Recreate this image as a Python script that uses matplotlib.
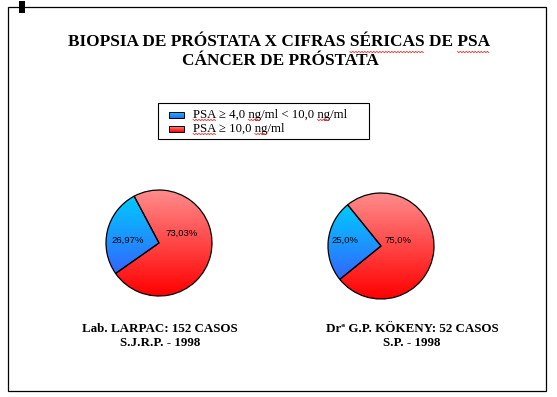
import numpy as np
import matplotlib
matplotlib.use("Agg")
import matplotlib.pyplot as plt
from matplotlib.patches import Rectangle

# data
categories = ["PSA \u2265 4,0 ng/ml < 10,0 ng/ml", "PSA \u2265 10,0 ng/ml"]
larpac_vals = [26.97, 73.03]
larpac_labels = ["26,97%", "73,03%"]
kokeny_vals = [25.0, 75.0]
kokeny_labels = ["25,0%", "75,0%"]
title_lines = ["BIOPSIA DE PR\u00d3STATA X CIFRAS S\u00c9RICAS DE PSA", "C\u00c1NCER DE PR\u00d3STATA"]
larpac_caption = ["Lab. LARPAC: 152 CASOS", "S.J.R.P. - 1998"]
kokeny_caption = ["Dr\u00aa G.P. K\u00d6KENY: 52 CASOS", "S.P. - 1998"]

W, H = 557, 397
serif = ["Liberation Serif", "DejaVu Serif"]
sans = ["Liberation Sans", "DejaVu Sans"]

# gradient colours (top -> bottom) for each category
grads = [((0, 204, 255), (51, 102, 255)), ((255, 140, 140), (255, 0, 0))]

fig = plt.figure(figsize=(W / 100, H / 100), dpi=100)
ax = fig.add_axes([0, 0, 1, 1])


def py(y):  # picture y (from top) -> axis y
    return H - y


def grad_fill(patch, c0, c1, box):
    t = np.linspace(0, 1, 256)[:, None]
    img = (np.array(c0) * (1 - t) + np.array(c1) * t) / 255.0
    im = ax.imshow(img[:, None, :], extent=(box.x0, box.x1, box.y0, box.y1), origin="upper",
                   aspect="auto", interpolation="bilinear", zorder=patch.get_zorder() - 0.5)
    im.set_clip_path(patch)


def gradient_pie(vals, labels, cx, cy, start, label_off):
    wedges, _ = ax.pie(vals, startangle=start, counterclock=True, radius=53,
                       center=(cx, py(cy)), frame=True,
                       wedgeprops=dict(facecolor="none", edgecolor="black", linewidth=0.9))
    for w, (c0, c1) in zip(wedges, grads):
        w.set_zorder(2)
        grad_fill(w, c0, c1, w.get_path().get_extents())
    for lab, (dx, dy) in zip(labels, label_off):
        ax.text(cx + dx, py(cy + dy), lab, ha="center", va="center", fontsize=6.8,
                family=sans, zorder=3)


gradient_pie(larpac_vals, larpac_labels, 159, 243, 118, [(-31, -3), (23, -10)])
gradient_pie(kokeny_vals, kokeny_labels, 381, 246, 129, [(-36, -6), (17, -6)])

# titles
t1 = ax.text(279, py(42), title_lines[0], ha="center", va="center", fontsize=12.4,
             fontweight="bold", family=serif)
ax.text(280, py(61), title_lines[1], ha="center", va="center", fontsize=12.4,
        fontweight="bold", family=serif)

# captions under the pies
for (xc, cap) in [(160, larpac_caption), (412, kokeny_caption)]:
    ax.text(xc, py(329), cap[0], ha="center", va="center", fontsize=9.4,
            fontweight="bold", family=serif)
    ax.text(xc, py(343), cap[1], ha="center", va="center", fontsize=9.4,
            fontweight="bold", family=serif)

# legend box
ax.add_patch(Rectangle((158, py(139)), 211, 36, facecolor="white", edgecolor="black", lw=0.8))
leg_texts = []
for i, (cat, (c0, c1)) in enumerate(zip(categories, grads)):
    yc = 115 + i * 14
    r = Rectangle((169, py(yc + 3)), 15, 6, facecolor="none", edgecolor="black", lw=0.7, zorder=3)
    ax.add_patch(r)
    grad_fill(r, c0, c1, r.get_bbox())
    leg_texts.append(ax.text(193, py(yc), cat, ha="left", va="center", fontsize=9.2,
                             family=serif))

# outer frame and the little handle at the top-left
ax.add_patch(Rectangle((8, py(391)), 538, 384, facecolor="none", edgecolor="black", lw=0.9))
ax.add_patch(Rectangle((19, py(13)), 6, 12, facecolor="black", edgecolor="none"))

ax.set_xlim(0, W)
ax.set_ylim(0, H)
ax.set_aspect("auto")
ax.axis("off")

# red spell-check squiggles under some words
fig.canvas.draw()
rend = fig.canvas.get_renderer()


def squiggle(txt, word, nth=0, drop=2):
    s = txt.get_text()
    idx = -1
    for _ in range(nth + 1):
        idx = s.index(word, idx + 1)
    fp = txt.get_fontproperties()
    ext = txt.get_window_extent(rend)
    x0 = ext.x0 + rend.get_text_width_height_descent(s[:idx], fp, ismath=False)[0]
    x1 = ext.x0 + rend.get_text_width_height_descent(s[:idx + len(word)], fp, ismath=False)[0]
    yb = ext.y0 + rend.get_text_width_height_descent(s, fp, ismath=False)[2] - drop
    xs = np.arange(x0, x1 + 0.1, 1.5)
    ys = yb + np.where(np.arange(len(xs)) % 2 == 0, 0.6, -0.6)
    ax.plot(xs, ys, color="red", lw=0.5, zorder=4)


squiggle(t1, "S\u00c9RICAS")
squiggle(t1, "PSA")
squiggle(leg_texts[0], "PSA")
squiggle(leg_texts[0], "ng", 0)
squiggle(leg_texts[0], "ng", 1)
squiggle(leg_texts[1], "PSA")
squiggle(leg_texts[1], "ng")

fig.savefig("out.png", dpi=100)
